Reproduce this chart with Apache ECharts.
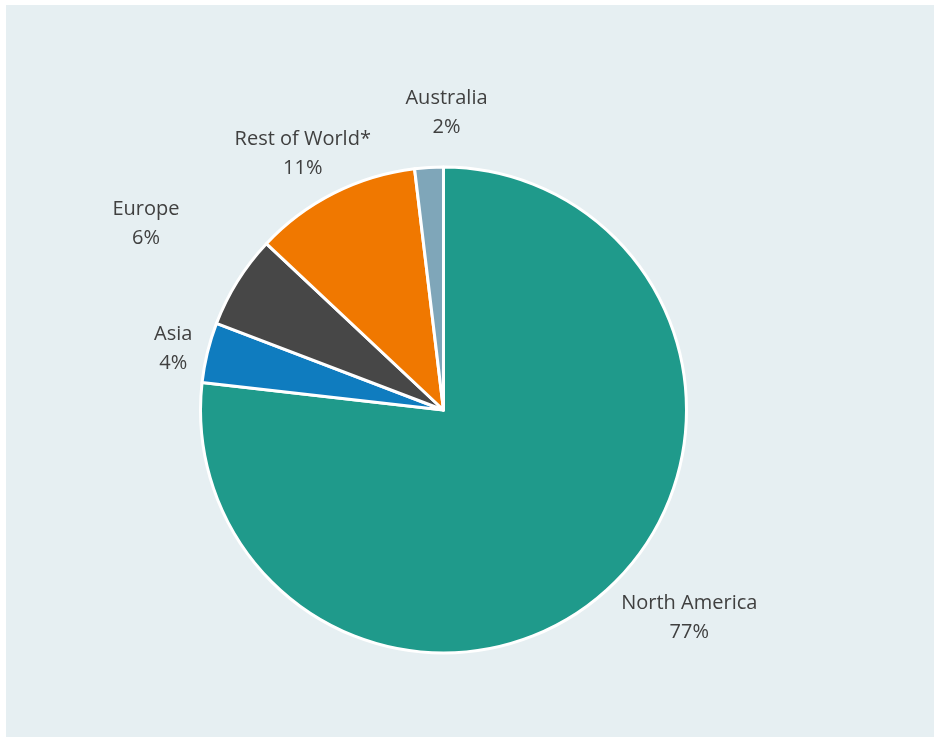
<!DOCTYPE html>
<html>
<head>
<meta charset="utf-8">
<script src="https://cdn.jsdelivr.net/npm/echarts@6/dist/echarts.min.js"></script>
<style>
  html,body{margin:0;padding:0;background:#fff}
  #chart{width:934px;height:744px}
</style>
</head>
<body>
<div id="chart"></div>
<script>
/* Reparto por región — tarta */
const REGIONES = ["North America", "Asia", "Europe", "Rest of World*", "Australia"];
const VALORES  = [76.8, 4.0, 6.2, 11.1, 1.9];
const COLORES  = ["#1f9a8b", "#0f7cbf", "#474747", "#f07800", "#7fa6b9"];

// layout de etiquetas (distancia al centro y corrección de ángulo, en grados)
const LBL_DIST  = [322, 277, 351, 292, 297];
const LBL_SHIFT = [-8, -1, 0, -2, 4];

const CX = 443.5, CY = 410, R = 243;
const total = VALORES.reduce((a,b)=>a+b,0);
const midAng = i => {
  const antes = VALORES.slice(0,i).reduce((a,b)=>a+b,0);
  return (antes + VALORES[i]/2)/total*360;
};

const chart = echarts.init(document.getElementById("chart"), null, {renderer:"canvas"});
chart.setOption({
  animation:false,
  graphic:[{type:"rect", z:-10, silent:true, shape:{x:6,y:5,width:928,height:732}, style:{fill:"#e6eff2"}}],
  series:[{
    type:"pie",
    center:[CX, CY],
    radius:R,
    startAngle:90,
    clockwise:true,
    avoidLabelOverlap:false,
    data: REGIONES.map((n,i)=>({name:n, value:VALORES[i], itemStyle:{color:COLORES[i]}})),
    itemStyle:{borderColor:"#ffffff", borderWidth:3},
    label:{
      show:true, position:"outside",
      formatter:p=>`${p.name}\n${Math.round(p.percent)}%`,
      fontFamily:"'Open Sans', sans-serif", fontSize:20, lineHeight:29,
      color:"#404040", align:"center"
    },
    labelLine:{show:false},
    labelLayout:p=>{
      const i = p.dataIndex;
      const a = (midAng(i) + LBL_SHIFT[i]) * Math.PI/180;
      return {x: CX + LBL_DIST[i]*Math.sin(a), y: CY - LBL_DIST[i]*Math.cos(a), align:"center", verticalAlign:"middle"};
    },
    emphasis:{disabled:true}
  }]
});
</script>
</body>
</html>
